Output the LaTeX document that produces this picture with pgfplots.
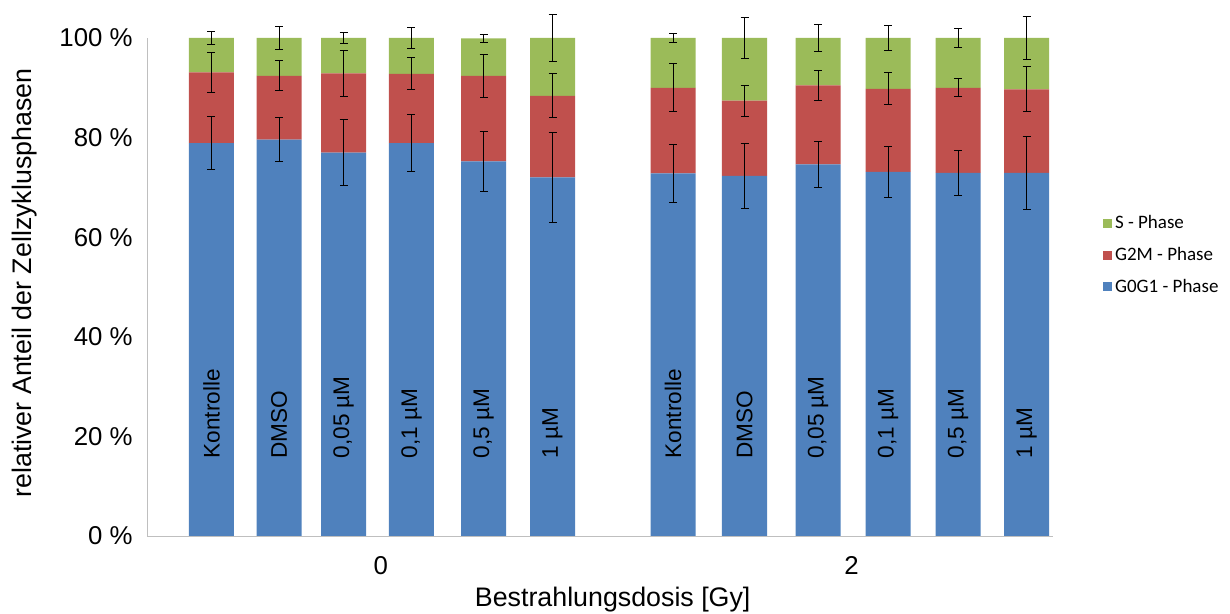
\documentclass[border=0pt]{standalone}
\usepackage{pgfplots}
\pgfplotsset{compat=1.18}
\usepackage{pgfplotstable}
\usepackage{fontspec}
\setmainfont{Liberation Sans}
\newfontfamily\carlito{Carlito}
\definecolor{cblue}{HTML}{4F81BD}
\definecolor{cred}{HTML}{C0504D}
\definecolor{cgreen}{HTML}{9BBB59}

% x = bar position, values in percent, errors +-
\pgfplotstableread{
x      g0g1  eg0g1  g2m   eg2m  s     es
0.932  78.9  5.4    14.2  4.0   6.9   1.3
1.908  79.6  4.4    12.8  3.0   7.6   2.3
2.840  77.0  6.6    15.9  4.6   7.1   1.1
3.822  78.9  5.8    13.9  3.2   7.2   2.1
4.863  75.2  6.1    17.2  4.3   7.5   0.9
5.860  72.0  9.1    16.4  4.4   11.6  4.8
7.601  72.8  5.9    17.2  4.8   10.0  1.0
8.634  72.3  6.5    15.1  3.1   12.6  4.1
9.697  74.6  4.7    15.9  3.0   9.5   2.7
10.708 73.1  5.1    16.7  3.2   10.2  2.5
11.720 72.9  4.5    17.1  1.8   10.0  1.9
12.710 72.9  7.4    16.8  4.5   10.3  4.3
}\datatable

\tikzset{barlab/.style={rotate=90, anchor=west, inner sep=0pt, font=\fontsize{11.3}{13}\selectfont}}

\pgfplotsset{
  common/.style={
    at={(0,0)}, anchor=south west,
    scale only axis,
    width=453pt, height=249pt,
    xmin=0, xmax=13.092,
    ymin=0, ymax=100,
    clip=false,
  },
  myerr/.style={
    draw=none, mark=none,
    error bars/y dir=both,
    error bars/y explicit,
    error bars/error bar style={draw=black, line width=0.5pt, solid},
    error bars/error mark options={rotate=90, mark size=2pt, draw=black, line width=0.5pt, solid},
  }
}

\begin{document}
\begin{tikzpicture}
\useasboundingbox (-73.5pt,-39pt) rectangle (541.5pt,268pt);
\begin{axis}[
  common,
  ybar stacked,
  bar width=22.5pt,
  axis lines*=left,
  axis line style={draw=black!25, -},
  major tick length=0pt,
  xtick={3.38,10.18},
  xticklabels={0,2},
  ytick={0,20,40,60,80,100},
  yticklabels={0 \%,20 \%,40 \%,60 \%,80 \%,100 \%},
  /pgf/number format/assume math mode=true,
  tick label style={font=\fontsize{12.9}{15}\selectfont, inner sep=0pt},
  yticklabel style={anchor=east, xshift=-7pt},
  xticklabel style={anchor=north, yshift=-9.8pt},
  xlabel={Bestrahlungsdosis [Gy]},
  ylabel={relativer Anteil der Zellzyklusphasen},
  label style={font=\fontsize{13.4}{16}\selectfont, inner sep=0pt},
  xlabel style={at={(axis description cs:0.514,0)}, anchor=base, yshift=-35.3pt},
  ylabel style={at={(axis description cs:0,0.508)}, anchor=base, yshift=57.5pt},
  legend style={at={(axis description cs:1.055,0.564)}, anchor=west,
    draw=none, fill=none, inner sep=0pt,
    font=\carlito\fontsize{9.5}{11}\selectfont,
    row sep=5pt,
    nodes={inner sep=1.4pt}},
  legend cell align=left,
  reverse legend,
]
\addplot[fill=cblue, draw=none,
  legend image code/.code={\fill[cblue] (0pt,-2.25pt) rectangle (4.5pt,2.25pt);}]
  table[x=x, y=g0g1] {\datatable};
\addlegendentry{G0G1 - Phase}
\addplot[fill=cred, draw=none,
  legend image code/.code={\fill[cred] (0pt,-2.25pt) rectangle (4.5pt,2.25pt);}]
  table[x=x, y=g2m] {\datatable};
\addlegendentry{G2M - Phase}
\addplot[fill=cgreen, draw=none,
  legend image code/.code={\fill[cgreen] (0pt,-2.25pt) rectangle (4.5pt,2.25pt);}]
  table[x=x, y=s] {\datatable};
\addlegendentry{S - Phase}
\end{axis}

% error bars at the top of each stacked segment, and the rotated bar labels
\begin{axis}[common, axis lines=none, xtick=\empty, ytick=\empty]
\addplot[myerr] table[x=x, y=g0g1, y error=eg0g1] {\datatable};
\addplot[myerr] table[x=x, y expr=\thisrow{g0g1}+\thisrow{g2m}, y error=eg2m] {\datatable};
\addplot[myerr] table[x=x, y expr=\thisrow{g0g1}+\thisrow{g2m}+\thisrow{s}, y error=es] {\datatable};
\node[barlab] at (axis cs:0.932,15.5) {Kontrolle};
\node[barlab] at (axis cs:1.908,15.5) {DMSO};
\node[barlab] at (axis cs:2.840,15.5) {0,05 µM};
\node[barlab] at (axis cs:3.822,15.5) {0,1 µM};
\node[barlab] at (axis cs:4.863,15.5) {0,5 µM};
\node[barlab] at (axis cs:5.860,15.5) {1 µM};
\node[barlab] at (axis cs:7.601,15.5) {Kontrolle};
\node[barlab] at (axis cs:8.634,15.5) {DMSO};
\node[barlab] at (axis cs:9.697,15.5) {0,05 µM};
\node[barlab] at (axis cs:10.708,15.5) {0,1 µM};
\node[barlab] at (axis cs:11.720,15.5) {0,5 µM};
\node[barlab] at (axis cs:12.710,15.5) {1 µM};
\end{axis}
\end{tikzpicture}
\end{document}
